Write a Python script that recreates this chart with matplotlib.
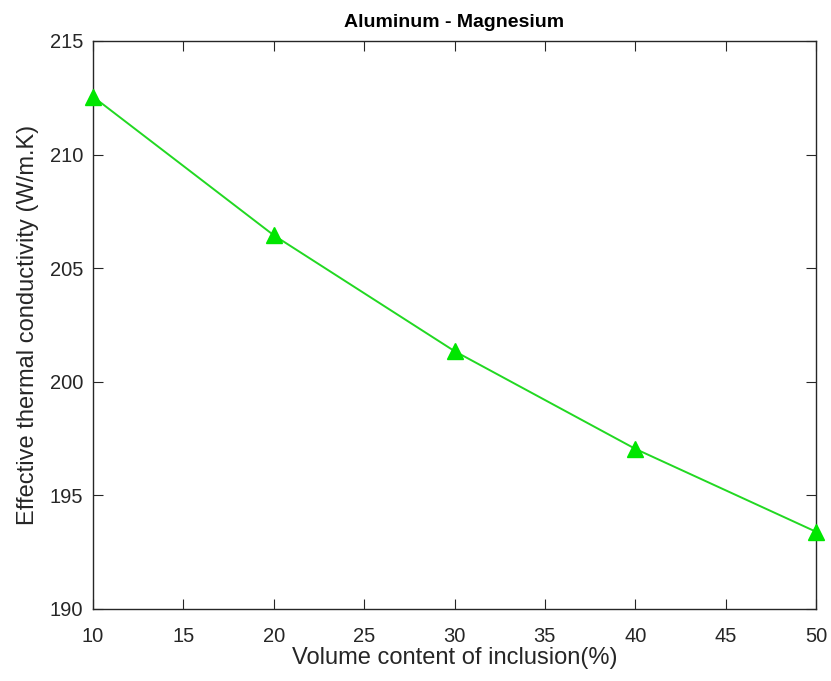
import matplotlib
matplotlib.use("Agg")
import matplotlib.pyplot as plt
from matplotlib.ticker import MultipleLocator

# donnees
volume_pct = [10, 20, 30, 40, 50]
conductivity = [212.55, 206.45, 201.35, 197.05, 193.4]

plt.rcParams["font.family"] = ["Liberation Sans", "DejaVu Sans"]

fig = plt.figure(figsize=(8.31, 6.81), dpi=100)
ax = fig.add_axes([93 / 831, 1 - 609 / 681, (816 - 93) / 831, (609 - 41) / 681])

ax.plot(volume_pct, conductivity, color="#22d822", linewidth=1.4,
        marker="^", markersize=11.5, markerfacecolor="#00e600",
        markeredgecolor="#00e600", clip_on=False, zorder=3)

ax.set_xlim(10, 50)
ax.set_ylim(190, 215)
ax.xaxis.set_major_locator(MultipleLocator(5))
ax.yaxis.set_major_locator(MultipleLocator(5))

# ticks vers l'interieur sur les 4 cotes (style matlab)
ax.tick_params(direction="in", top=True, right=True, length=7, width=0.8,
               labelsize=14.5, colors="#262626")
ax.tick_params(axis="x", pad=13)
ax.tick_params(axis="y", pad=7)
for s in ax.spines.values():
    s.set_linewidth(1.0)
    s.set_color("#262626")

ax.set_title("Aluminum - Magnesium", fontsize=14, fontweight="bold", pad=10)
ax.set_xlabel("Volume content of inclusion(%)", fontsize=17, color="#262626", labelpad=1)
ax.set_ylabel("Effective thermal conductivity (W/m.K)", fontsize=17, color="#262626", labelpad=8)

fig.savefig("out.png", dpi=100)
